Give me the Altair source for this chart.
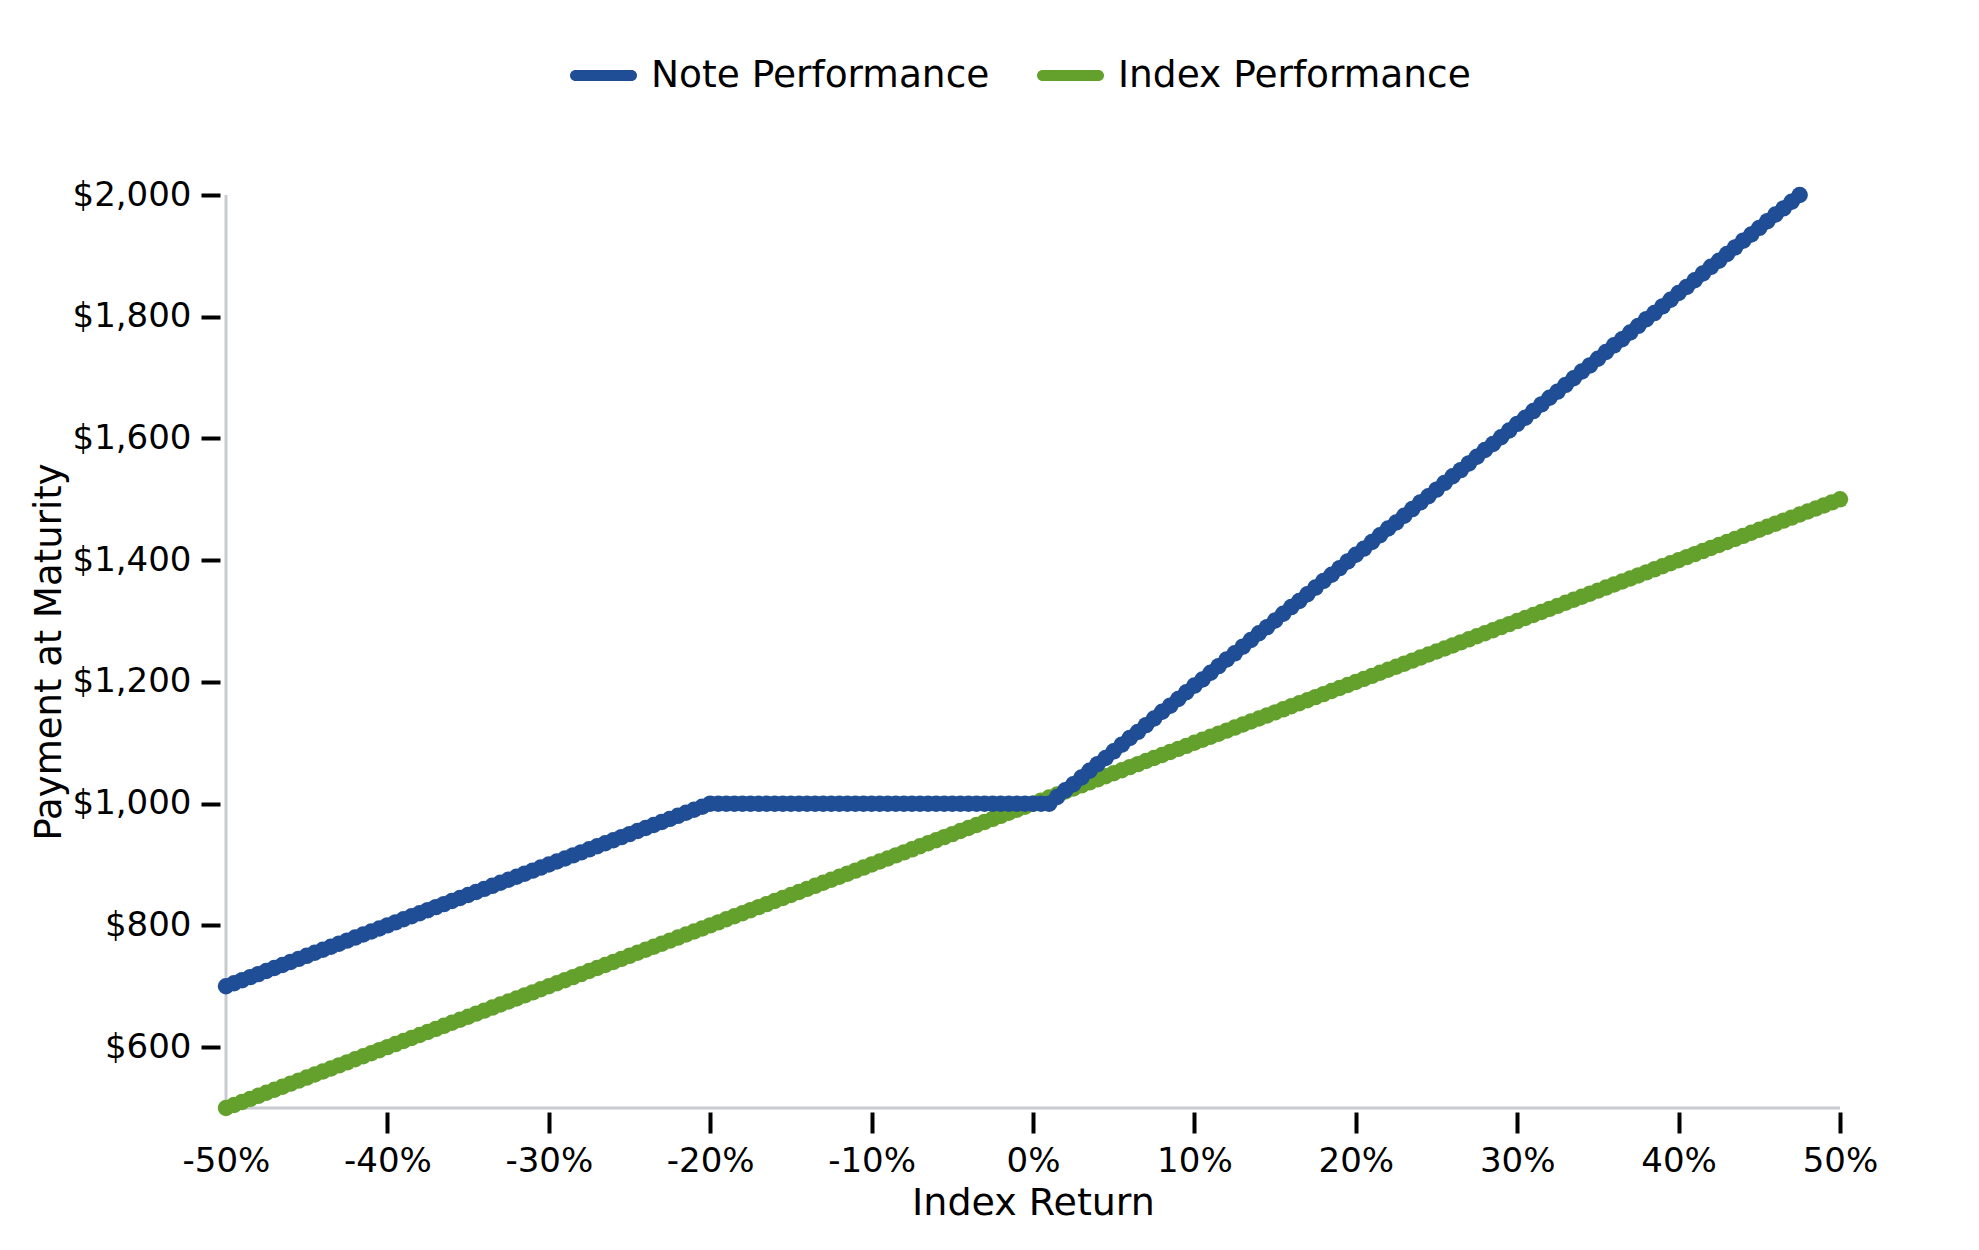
import altair as alt
import pandas as pd

# ---------------- data ----------------
RETURNS = [
    -50.0, -49.5, -49.0, -48.5, -48.0, -47.5, -47.0, -46.5, -46.0, -45.5,
    -45.0, -44.5, -44.0, -43.5, -43.0, -42.5, -42.0, -41.5, -41.0, -40.5,
    -40.0, -39.5, -39.0, -38.5, -38.0, -37.5, -37.0, -36.5, -36.0, -35.5,
    -35.0, -34.5, -34.0, -33.5, -33.0, -32.5, -32.0, -31.5, -31.0, -30.5,
    -30.0, -29.5, -29.0, -28.5, -28.0, -27.5, -27.0, -26.5, -26.0, -25.5,
    -25.0, -24.5, -24.0, -23.5, -23.0, -22.5, -22.0, -21.5, -21.0, -20.5,
    -20.0, -19.5, -19.0, -18.5, -18.0, -17.5, -17.0, -16.5, -16.0, -15.5,
    -15.0, -14.5, -14.0, -13.5, -13.0, -12.5, -12.0, -11.5, -11.0, -10.5,
    -10.0, -9.5, -9.0, -8.5, -8.0, -7.5, -7.0, -6.5, -6.0, -5.5,
    -5.0, -4.5, -4.0, -3.5, -3.0, -2.5, -2.0, -1.5, -1.0, -0.5,
    0.0, 0.5, 1.0, 1.5, 2.0, 2.5, 3.0, 3.5, 4.0, 4.5,
    5.0, 5.5, 6.0, 6.5, 7.0, 7.5, 8.0, 8.5, 9.0, 9.5,
    10.0, 10.5, 11.0, 11.5, 12.0, 12.5, 13.0, 13.5, 14.0, 14.5,
    15.0, 15.5, 16.0, 16.5, 17.0, 17.5, 18.0, 18.5, 19.0, 19.5,
    20.0, 20.5, 21.0, 21.5, 22.0, 22.5, 23.0, 23.5, 24.0, 24.5,
    25.0, 25.5, 26.0, 26.5, 27.0, 27.5, 28.0, 28.5, 29.0, 29.5,
    30.0, 30.5, 31.0, 31.5, 32.0, 32.5, 33.0, 33.5, 34.0, 34.5,
    35.0, 35.5, 36.0, 36.5, 37.0, 37.5, 38.0, 38.5, 39.0, 39.5,
    40.0, 40.5, 41.0, 41.5, 42.0, 42.5, 43.0, 43.5, 44.0, 44.5,
    45.0, 45.5, 46.0, 46.5, 47.0, 47.5, 48.0, 48.5, 49.0, 49.5,
    50.0,
]

INDEX_VALUES = [
    500, 505, 510, 515, 520, 525, 530, 535, 540, 545,
    550, 555, 560, 565, 570, 575, 580, 585, 590, 595,
    600, 605, 610, 615, 620, 625, 630, 635, 640, 645,
    650, 655, 660, 665, 670, 675, 680, 685, 690, 695,
    700, 705, 710, 715, 720, 725, 730, 735, 740, 745,
    750, 755, 760, 765, 770, 775, 780, 785, 790, 795,
    800, 805, 810, 815, 820, 825, 830, 835, 840, 845,
    850, 855, 860, 865, 870, 875, 880, 885, 890, 895,
    900, 905, 910, 915, 920, 925, 930, 935, 940, 945,
    950, 955, 960, 965, 970, 975, 980, 985, 990, 995,
    1000, 1005, 1010, 1015, 1020, 1025, 1030, 1035, 1040, 1045,
    1050, 1055, 1060, 1065, 1070, 1075, 1080, 1085, 1090, 1095,
    1100, 1105, 1110, 1115, 1120, 1125, 1130, 1135, 1140, 1145,
    1150, 1155, 1160, 1165, 1170, 1175, 1180, 1185, 1190, 1195,
    1200, 1205, 1210, 1215, 1220, 1225, 1230, 1235, 1240, 1245,
    1250, 1255, 1260, 1265, 1270, 1275, 1280, 1285, 1290, 1295,
    1300, 1305, 1310, 1315, 1320, 1325, 1330, 1335, 1340, 1345,
    1350, 1355, 1360, 1365, 1370, 1375, 1380, 1385, 1390, 1395,
    1400, 1405, 1410, 1415, 1420, 1425, 1430, 1435, 1440, 1445,
    1450, 1455, 1460, 1465, 1470, 1475, 1480, 1485, 1490, 1495,
    1500,
]

# note payoff, sampled at the same returns, ends at +47.5%
NOTE_VALUES = [
    700, 705, 710, 715, 720, 725, 730, 735, 740, 745,
    750, 755, 760, 765, 770, 775, 780, 785, 790, 795,
    800, 805, 810, 815, 820, 825, 830, 835, 840, 845,
    850, 855, 860, 865, 870, 875, 880, 885, 890, 895,
    900, 905, 910, 915, 920, 925, 930, 935, 940, 945,
    950, 955, 960, 965, 970, 975, 980, 985, 990, 995,
    1000, 1000, 1000, 1000, 1000, 1000, 1000, 1000, 1000, 1000,
    1000, 1000, 1000, 1000, 1000, 1000, 1000, 1000, 1000, 1000,
    1000, 1000, 1000, 1000, 1000, 1000, 1000, 1000, 1000, 1000,
    1000, 1000, 1000, 1000, 1000, 1000, 1000, 1000, 1000, 1000,
    1000, 1000, 1000, 1011, 1022, 1032, 1043, 1054, 1065, 1075,
    1086, 1097, 1108, 1118, 1129, 1140, 1151, 1161, 1172, 1183,
    1194, 1204, 1215, 1226, 1237, 1247, 1258, 1269, 1280, 1290,
    1301, 1312, 1323, 1333, 1344, 1355, 1366, 1376, 1387, 1398,
    1409, 1419, 1430, 1441, 1452, 1462, 1473, 1484, 1495, 1505,
    1516, 1527, 1538, 1548, 1559, 1570, 1581, 1591, 1602, 1613,
    1624, 1634, 1645, 1656, 1667, 1677, 1688, 1699, 1710, 1720,
    1731, 1742, 1753, 1763, 1774, 1785, 1796, 1806, 1817, 1828,
    1839, 1849, 1860, 1871, 1882, 1892, 1903, 1914, 1925, 1935,
    1946, 1957, 1968, 1978, 1989, 2000,
]

SERIES = ["Note Performance", "Index Performance"]
COLORS = ["#1f4e96", "#63a12c"]
X_TICKS = [-50, -40, -30, -20, -10, 0, 10, 20, 30, 40, 50]
Y_TICKS = [600, 800, 1000, 1200, 1400, 1600, 1800, 2000]
X_DOMAIN = [-50, 50]
Y_DOMAIN = [500, 2000]

rows = []
for r, v in zip(RETURNS, NOTE_VALUES):
    rows.append({"ret": r, "pay": v, "series": SERIES[0]})
for r, v in zip(RETURNS, INDEX_VALUES):
    rows.append({"ret": r, "pay": v, "series": SERIES[1]})
df = pd.DataFrame(rows)

frame_df = pd.DataFrame({"x0": [X_DOMAIN[0]], "x1": [X_DOMAIN[1]],
                         "y0": [Y_DOMAIN[0]], "y1": [Y_DOMAIN[1]]})

# ---------------- styling ----------------
FONT = "DejaVu Sans"
AXIS_GRAY = "#c8ccd1"
CAPSULE = ("M-0.836,-0.164 L0.836,-0.164 A0.164,0.164 0 0 1 0.836,0.164 "
           "L-0.836,0.164 A0.164,0.164 0 0 1 -0.836,-0.164 Z")

x_axis = alt.Axis(
    values=X_TICKS, labelExpr="datum.value + '%'", domain=False, grid=False,
    offset=4, tickSize=21, tickWidth=4, tickColor="black",
    tickOpacity={"condition": {"test": "datum.value == -50", "value": 0}, "value": 1},
    labelPadding=11, labelFontSize=34, labelColor="black", labelFont=FONT,
    labelFlush=False, labelOverlap=False,
    title="Index Return", titleFontSize=38, titleFontWeight="normal",
    titleColor="black", titleFont=FONT, titlePadding=6,
)
y_axis = alt.Axis(
    values=Y_TICKS, format="$,.0f", domain=False, grid=False,
    offset=6, tickSize=19, tickWidth=4, tickColor="black",
    labelPadding=10, labelFontSize=34, labelColor="black", labelFont=FONT,
    labelFlush=False, labelOverlap=False,
    title="Payment at Maturity", titleFontSize=37, titleFontWeight="normal",
    titleColor="black", titleFont=FONT, titlePadding=4,
)
x_scale = alt.Scale(domain=X_DOMAIN, nice=False, zero=False)
y_scale = alt.Scale(domain=Y_DOMAIN, nice=False, zero=False)


def X(field):
    return alt.X(field, type="quantitative", scale=x_scale, axis=x_axis)


def Y(field):
    return alt.Y(field, type="quantitative", scale=y_scale, axis=y_axis)


legend = alt.Legend(
    title=None, orient="none", legendX=344, legendY=-153, direction="horizontal",
    symbolType=CAPSULE, symbolSize=4489, symbolStrokeWidth=0, symbolOpacity=1,
    labelFontSize=37.5, labelColor="black", labelFont=FONT, labelOffset=14,
    labelLimit=600, columnPadding=47,
)
color_leg = alt.Color("series:N", scale=alt.Scale(domain=SERIES, range=COLORS), legend=legend)

frame = alt.Chart(frame_df)
y_line = frame.mark_rule(color=AXIS_GRAY, strokeWidth=3).encode(
    x=X("x0"), y=Y("y0"), y2="y1")
x_line = frame.mark_rule(color=AXIS_GRAY, strokeWidth=3).encode(
    x=X("x0"), x2="x1", y=Y("y0"))

base = alt.Chart(df)


def series_layers(i):
    name = SERIES[i]
    sub = base.transform_filter(alt.datum.series == name)
    line = sub.mark_line(strokeWidth=13, strokeCap="round", strokeJoin="round",
                         color=COLORS[i]).encode(x=X("ret"), y=Y("pay"))
    pts = sub.mark_circle(size=270, opacity=1).encode(
        x=X("ret"), y=Y("pay"), color=color_leg)
    return [line, pts]


layers = [y_line, x_line] + series_layers(1) + series_layers(0)

chart = alt.layer(*layers).properties(
    width=1614, height=913,
    autosize=alt.AutoSizeParams(type="none"),
    padding={"left": 218, "top": 187, "right": 131, "bottom": 134},
).configure(font=FONT).configure_view(strokeWidth=0)

chart.save("out.html", embed_options={"renderer": "svg", "actions": False})
